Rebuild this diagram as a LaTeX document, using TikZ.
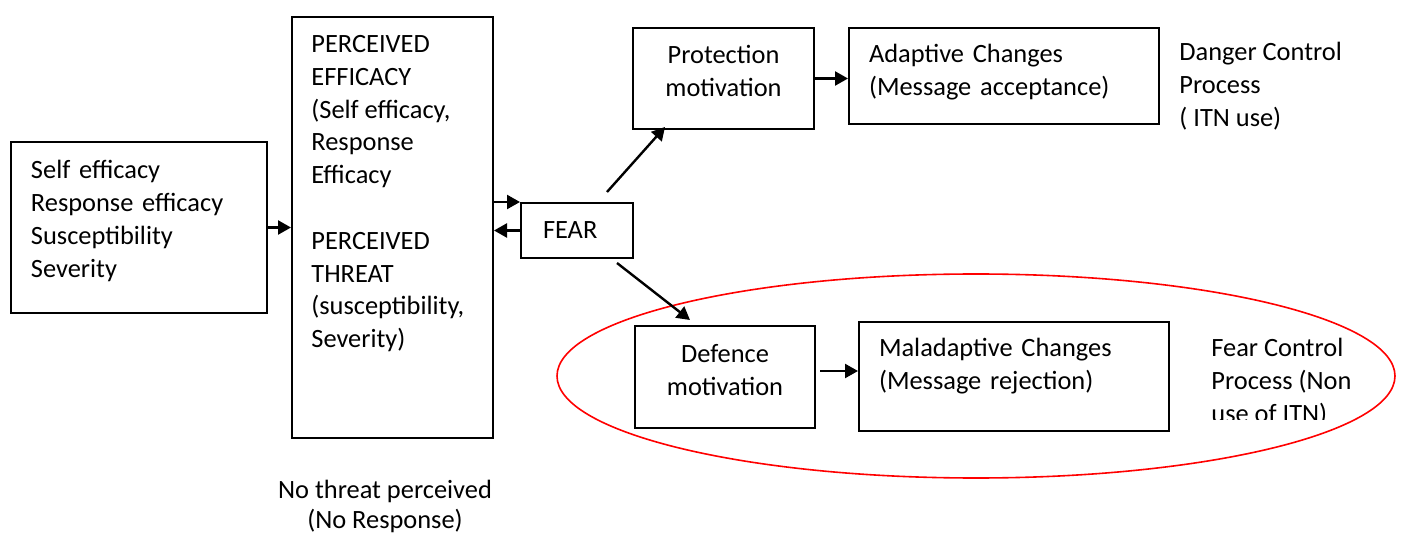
\documentclass[tikz,border=0pt]{standalone}
\usepackage{fontspec}
\setmainfont{Carlito}
\usetikzlibrary{arrows.meta}

\begin{document}
\begin{tikzpicture}[x=0.5pt,y=-0.5pt,font=\fontsize{13.2}{16.4}\selectfont,
    box/.style={draw,line width=1pt,anchor=north west,inner xsep=10pt,inner ysep=0pt},
    flow/.style={-{Triangle[length=6.5pt,width=7pt]},line width=1.2pt}]
    \useasboundingbox (0,0) rectangle (1405,535);

    %inputs
    \node[box,text depth=57.9pt,text width=108pt,minimum height=85.5pt,align=left] (factors) at (10,141)
      {Self efficacy\\Response efficacy\\Susceptibility\\Severity};
    \node[box,minimum width=100.5pt,minimum height=210.5pt] (perceived) at (291,16) {};
    \node[anchor=north west,inner sep=0pt,align=left] (perctext) at (311,35)
      {PERCEIVED\\EFFICACY\\(Self efficacy,\\Response\\Efficacy\\[16.4pt]PERCEIVED\\THREAT\\(susceptibility,\\Severity)};
    \node[anchor=north,inner sep=0pt,align=center,font=\fontsize{13.2}{14.8}\selectfont] (nothreat) at (385,480)
      {No threat perceived\\(No Response)};

    %fear
    \node[box,inner xsep=11pt,text width=34pt,minimum height=27.5pt,align=left] (fear) at (520,202) {FEAR};

    %danger control
    \node[box,text depth=24.4pt,text width=70.5pt,minimum height=50.5pt,align=center] (protect) at (632,27)
      {Protection\\motivation};
    \node[box,text depth=22.7pt,text width=135pt,minimum height=48pt,align=left] (adaptive) at (848,27)
      {Adaptive Changes\\(Message acceptance)};
    \node[anchor=north west,inner sep=0pt,align=left] (danger) at (1179,42)
      {Danger Control\\Process\\( ITN use)};

    %fear control
    \node[box,text depth=23.4pt,text width=70pt,minimum height=51pt,align=center] (defence) at (634,325)
      {Defence\\motivation};
    \node[box,text depth=28.7pt,text width=135pt,minimum height=54.5pt,align=left] (maladaptive) at (858,321)
      {Maladaptive Changes\\(Message rejection)};
    \begin{scope}
      \clip (1190,325) rectangle (1400,419);
      \node[anchor=north west,inner sep=0pt,align=left] (fearctl) at (1211,338)
        {Fear Control\\Process (Non\\use of ITN)};
    \end{scope}
    \draw [color=red,line width=0.8pt] (976,376) ellipse [x radius=209.5pt,y radius=51pt];

    %arrows
    \coordinate (fearup) at (607,192);
    \coordinate (protin) at (665,127);
    \coordinate (feardown) at (617,263);
    \coordinate (defin) at (690,320);
    \coordinate (defout) at ([xshift=2pt,yshift=3pt]defence.east);
    \draw [flow] (factors.east) -- (perceived.west |- factors.east);
    \draw [flow] (perceived.east |- fear.north west) -- (fear.north west);
    \draw [flow] (fear.west) -- (perceived.east |- fear.west);
    \draw [flow] (fearup) -- (protin);
    \draw [flow] (feardown) -- (defin);
    \draw [flow] (protect.east) -- (adaptive.west |- protect.east);
    \draw [flow] (defout) -- (maladaptive.west |- defout);

\end{tikzpicture}
\end{document}
